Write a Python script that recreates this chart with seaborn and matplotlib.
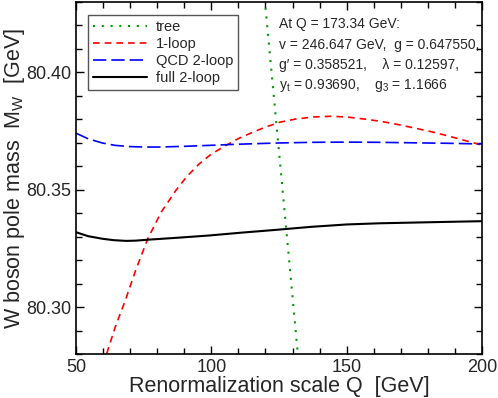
import numpy as np
import pandas as pd
import matplotlib
matplotlib.use("Agg")
import matplotlib.pyplot as plt
import seaborn as sns

# values
q_tree = [119.0, 126.0, 133.0]
mw_tree = [80.440, 80.354, 80.267]

q_1loop = [60.0, 61.3, 64.5, 68.2, 72.0, 76.5, 81.5, 86.9, 91.0, 95.5, 100.0, 105.4, 110.0,
           115.3, 120.0, 125.4, 131.0, 137.7, 144.0, 150.0, 156.0, 162.3, 168.5, 174.6,
           181.0, 186.9, 193.0, 200.0]
mw_1loop = [80.2755, 80.280, 80.2915, 80.3028, 80.3155, 80.3291, 80.3405, 80.3497, 80.3557,
            80.3610, 80.3652, 80.3689, 80.3718, 80.3745, 80.3767, 80.3788, 80.3801, 80.3810,
            80.3813, 80.3810, 80.3802, 80.3792, 80.3779, 80.3764, 80.3748, 80.3731, 80.3712,
            80.3690]

q_qcd = [50.0, 54.5, 59.8, 64.5, 69.7, 75.0, 80.8, 90.0, 99.2, 110.0, 123.9, 137.0, 150.0,
         162.0, 174.5, 187.0, 200.0]
mw_qcd = [80.3741, 80.3717, 80.3699, 80.3689, 80.3684, 80.3682, 80.3682, 80.3685, 80.3689,
          80.3694, 80.3699, 80.3702, 80.3703, 80.3702, 80.3700, 80.3698, 80.3695]

q_full = [50.0, 54.5, 59.8, 64.0, 68.5, 72.0, 76.5, 87.0, 99.2, 111.0, 123.9, 137.0, 150.0,
          162.0, 174.5, 187.0, 200.0]
mw_full = [80.3319, 80.3302, 80.3291, 80.3285, 80.3282, 80.3283, 80.3287, 80.3295, 80.3305,
           80.3317, 80.3329, 80.3342, 80.3352, 80.3357, 80.3360, 80.3363, 80.3366]

labels = ["tree", "1-loop", "QCD 2-loop", "full 2-loop"]
colors = ["#009900", "#ff0000", "#0000ff", "#000000"]
dashes = [(1, 3.2), (4, 3), (8, 3), ()]
widths = [1.5, 1.2, 1.2, 1.5]

info = [
    "At Q = 173.34 GeV:",
    "v = 246.647 GeV,  g = 0.647550,",
    "g\u2032 = 0.358521,    \u03bb = 0.12597,",
    "y$_t$ = 0.93690,    g$_3$ = 1.1666",
]

df = pd.concat([
    pd.DataFrame({"Q": q_tree, "MW": mw_tree, "order": labels[0]}),
    pd.DataFrame({"Q": q_1loop, "MW": mw_1loop, "order": labels[1]}),
    pd.DataFrame({"Q": q_qcd, "MW": mw_qcd, "order": labels[2]}),
    pd.DataFrame({"Q": q_full, "MW": mw_full, "order": labels[3]}),
])

sns.set_style("ticks")
plt.rcParams["font.family"] = ["Liberation Sans", "DejaVu Sans"]
plt.rcParams["mathtext.fontset"] = "custom"
plt.rcParams["mathtext.rm"] = "Liberation Sans"
plt.rcParams["mathtext.it"] = "Liberation Sans"
plt.rcParams["mathtext.default"] = "regular"

fig = plt.figure(figsize=(4.98, 3.98), dpi=100)
ax = fig.add_axes([76 / 498, 1 - 354 / 398, 406 / 498, 352 / 398])

for lab, col, dsh, w in zip(labels, colors, dashes, widths):
    sub = df[df["order"] == lab]
    sns.lineplot(
        data=sub, x="Q", y="MW",
        color=col, lw=w,
        sort=False, estimator=None, label=lab, ax=ax,
        dashes=False,
    )
    if dsh:
        ax.lines[-1].set_dashes(dsh)

ax.set_xlim(50, 200)
ax.set_ylim(80.28, 80.43)
ax.set_xticks([50, 100, 150, 200])
ax.set_xticks(np.arange(50, 201, 10), minor=True)
ax.set_yticks([80.30, 80.35, 80.40])
ax.set_yticklabels(["80.30", "80.35", "80.40"])
ax.set_yticks(np.arange(80.28, 80.431, 0.01), minor=True)
ax.tick_params(which="both", direction="in", top=True, right=True, labelsize=13,
               width=1.0, color="black")
ax.tick_params(which="major", length=6)
ax.tick_params(which="minor", length=4)
for s in ax.spines.values():
    s.set_linewidth(1.2)
    s.set_color("black")

ax.set_xlabel("Renormalization scale Q  [GeV]", fontsize=15.5, labelpad=0)
ax.set_ylabel("W boson pole mass  M$_W$  [GeV]", fontsize=15.5)
ax.yaxis.set_label_coords(-0.12, 0.5)

leg = ax.legend(
    loc="upper left", bbox_to_anchor=(0.029, 0.963), borderaxespad=0, fontsize=10.5,
    handlelength=3.7, labelspacing=0.2, borderpad=0.35, handletextpad=0.6,
    frameon=True, fancybox=False, edgecolor="#555555", framealpha=1,
)
leg.get_frame().set_linewidth(1.0)

for i, line in enumerate(info):
    ax.text(279, 24 + 20.5 * i, line, fontsize=10, va="center", ha="left",
            transform=None)

# place text in figure pixel coordinates (y from top)
for t in ax.texts:
    x, y = t.get_position()
    t.set_transform(fig.transFigure)
    t.set_position((x / 498, 1 - y / 398))

fig.savefig("out.png", dpi=100)
